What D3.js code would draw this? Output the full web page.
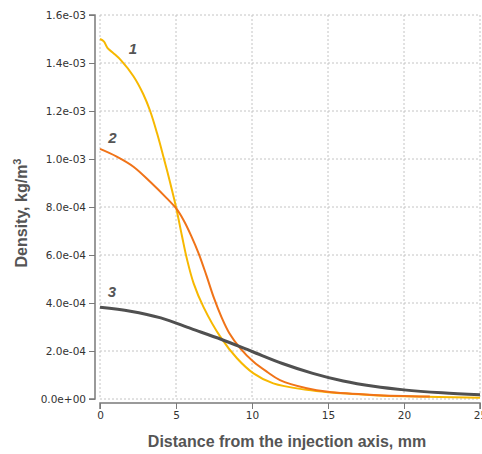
<!DOCTYPE html>
<html><head><meta charset="utf-8">
<script src="https://cdn.jsdelivr.net/npm/d3@7"></script>
<style>body{margin:0;background:#fff}svg{display:block}</style>
</head><body>
<script>
// Data (density in kg/m^3 vs distance in mm)
const xValues1 = [0, 0.25, 0.5, 0.9, 1.4, 2.2, 2.85, 3.3, 3.75, 4.15, 4.6, 5.0, 5.39, 5.72, 6.16, 6.82, 7.91, 9.01, 10.1, 11.4, 13.6, 15, 18, 20, 25];
const yValues1 = [1.50e-3, 1.49e-3, 1.462e-3, 1.44e-3, 1.41e-3, 1.345e-3, 1.27e-3, 1.2e-3, 1.108e-3, 1.015e-3, 0.905e-3, 0.80e-3, 0.68e-3, 0.583e-3, 0.482e-3, 0.382e-3, 0.26e-3, 0.17e-3, 0.107e-3, 0.065e-3, 0.038e-3, 0.028e-3, 0.016e-3, 0.011e-3, 0.005e-3];
const xValues2 = [0, 1.1, 2.2, 3.3, 4.4, 5.0, 5.5, 6.0, 6.5, 7.0, 7.5, 8.0, 8.5, 9.23, 10.1, 10.97, 11.84, 13.6, 15, 18, 21.7];
const yValues2 = [1.042e-3, 1.01e-3, 0.968e-3, 0.905e-3, 0.836e-3, 0.795e-3, 0.745e-3, 0.68e-3, 0.605e-3, 0.515e-3, 0.42e-3, 0.34e-3, 0.275e-3, 0.211e-3, 0.155e-3, 0.114e-3, 0.079e-3, 0.045e-3, 0.030e-3, 0.017e-3, 0.010e-3];
const xValues3 = [0, 2, 4, 6, 8, 10, 12, 14, 16, 18, 20, 22.5, 25];
const yValues3 = [3.82e-4, 3.66e-4, 3.38e-4, 2.93e-4, 2.48e-4, 1.98e-4, 1.48e-4, 1.07e-4, 0.75e-4, 0.53e-4, 0.38e-4, 0.26e-4, 0.18e-4];
const seriesNames = ["1", "2", "3"];
const seriesColors = ["#f7b800", "#f07318", "#505050"];
const xTicks = [0, 5, 10, 15, 20, 25];
const yTicks = [0, 2e-4, 4e-4, 6e-4, 8e-4, 1.0e-3, 1.2e-3, 1.4e-3, 1.6e-3];
const yTickLabels = ["0.0e+00", "2.0e-04", "4.0e-04", "6.0e-04", "8.0e-04", "1.0e-03", "1.2e-03", "1.4e-03", "1.6e-03"];
const labelPos = [[2.17, 1.4375e-3], [0.82, 1.067e-3], [0.79, 4.25e-4]];

const W = 482, H = 454;
const svg = d3.select("body").append("svg").attr("width", W).attr("height", H);
const x = d3.scaleLinear().domain([0, 25]).range([100, 480]);
const y = d3.scaleLinear().domain([0, 1.6e-3]).range([399, 15]);

// grid
const grid = svg.append("g").attr("stroke", "#c4c4c4").attr("stroke-dasharray", "2,2").attr("stroke-width", 1);
xTicks.forEach(t => grid.append("line").attr("x1", x(t)).attr("x2", x(t)).attr("y1", y(1.6e-3)).attr("y2", y(0)));
yTicks.forEach(t => grid.append("line").attr("x1", x(0)).attr("x2", x(25)).attr("y1", y(t)).attr("y2", y(t)));

// axes
const yAxis = d3.axisLeft(y).tickValues(yTicks).tickFormat((d, i) => yTickLabels[i]).tickSize(6).tickPadding(3);
const yMinor = d3.axisLeft(y).tickValues(d3.range(0, 33).map(i => i * 0.5e-4)).tickFormat("").tickSize(3);
const yg = svg.append("g").attr("transform", "translate(95,0)");
yg.call(yMinor);
yg.call(yAxis);
const xAxis = d3.axisBottom(x).tickValues(xTicks).tickSize(6).tickPadding(3);
const xMinor = d3.axisBottom(x).tickValues(d3.range(0, 26)).tickFormat("").tickSize(3);
const xg = svg.append("g").attr("transform", "translate(0,403)");
xg.call(xMinor);
xg.call(xAxis);
svg.selectAll(".domain").attr("stroke", "#7a7a7a").attr("stroke-width", 1.5);
svg.selectAll(".tick line").attr("stroke", "#7a7a7a");
svg.selectAll(".tick text").attr("font-family", "DejaVu Sans, Verdana, sans-serif").attr("font-size", "10.5px").attr("fill", "#333");
yg.selectAll(".domain").attr("d", `M-6,${y(1.6e-3)}H0V${y(0)}H-6`);
xg.selectAll(".domain").attr("d", `M${x(0)},6V0H${x(25)}V6`);

// curves
const series = [[xValues1, yValues1], [xValues2, yValues2], [xValues3, yValues3]];
const line = d3.line().x(d => x(d[0])).y(d => y(d[1])).curve(d3.curveCatmullRom.alpha(0.5));
series.forEach((s, i) => {
  const pts = s[0].map((v, j) => [v, s[1][j]]);
  svg.append("path").datum(pts).attr("d", line).attr("fill", "none")
    .attr("stroke", seriesColors[i]).attr("stroke-width", i === 2 ? 3 : 2).attr("stroke-linejoin", "round");
});

// curve labels
seriesNames.forEach((n, i) => {
  svg.append("text").attr("x", x(labelPos[i][0])).attr("y", y(labelPos[i][1]))
    .attr("text-anchor", "middle").attr("font-family", "Liberation Sans, Arial, sans-serif")
    .attr("font-weight", "bold").attr("font-style", "italic").attr("font-size", "15px").attr("fill", "#555").text(n);
});

// axis titles
svg.append("text").attr("x", 287).attr("y", 447).attr("text-anchor", "middle")
  .attr("font-family", "Liberation Sans, Arial, sans-serif").attr("font-weight", "bold").attr("font-size", "16px").attr("fill", "#555")
  .text("Distance from the injection axis, mm");
const yt = svg.append("text").attr("transform", "translate(27,213) rotate(-90)").attr("text-anchor", "middle")
  .attr("font-family", "Liberation Sans, Arial, sans-serif").attr("font-weight", "bold").attr("font-size", "16px").attr("fill", "#555");
yt.append("tspan").text("Density, kg/m");
yt.append("tspan").attr("dy", "-6").attr("font-size", "11px").text("3");
</script>
</body></html>
